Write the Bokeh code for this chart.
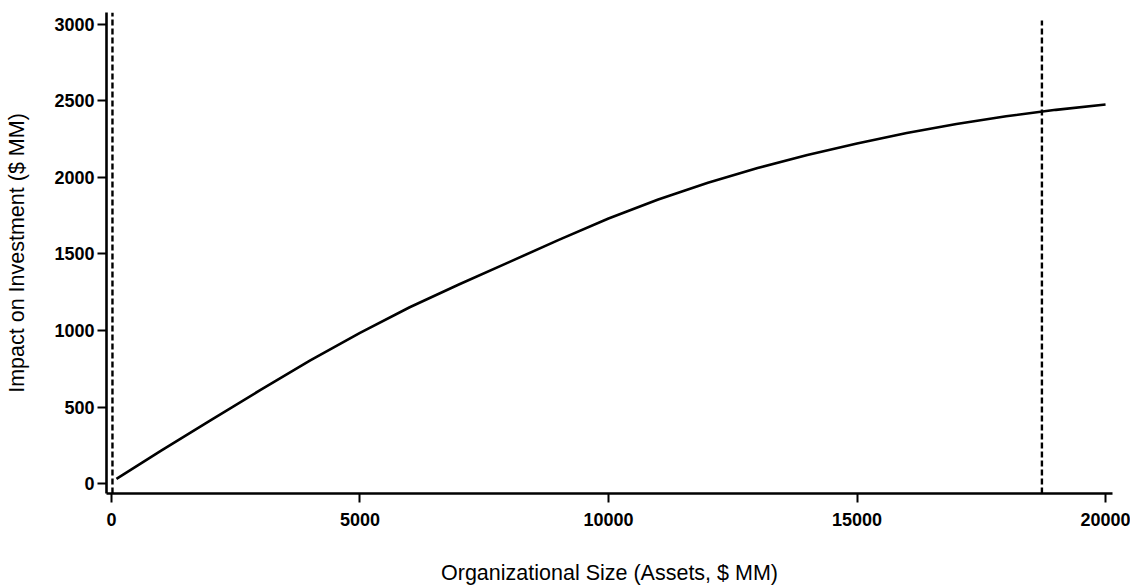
from bokeh.plotting import figure
from bokeh.models import Range1d, FixedTicker
from bokeh.embed import file_html
from bokeh.resources import INLINE

# Data
org_size = [100, 1000, 2000, 3000, 4000, 5000, 6000, 7000, 8000, 9000, 10000,
            11000, 12000, 13000, 14000, 15000, 16000, 17000, 18000, 19000, 20000]
impact = [30, 215, 415, 612, 805, 985, 1152, 1302, 1447, 1592, 1732,
          1856, 1966, 2062, 2147, 2222, 2290, 2350, 2400, 2442, 2477]

ref_x = [20, 18720]          # dashed reference lines (x position)
ref_bottom = [-65, -65]
ref_top = [3078, 3025]

x_ticks = [0, 5000, 10000, 15000, 20000]
y_ticks = [0, 500, 1000, 1500, 2000, 2500, 3000]

FONT = "Liberation Sans"

p = figure(width=1130, height=587, output_backend="svg", toolbar_location=None,
           x_range=Range1d(-100, 20140), y_range=Range1d(-65, 3078),
           min_border_left=106, min_border_right=18, min_border_top=12,
           min_border_bottom=92)

p.line(org_size, impact, line_width=2.6, line_color="black")
p.segment(x0=ref_x, y0=ref_bottom, x1=ref_x, y1=ref_top,
          line_dash="6 3", line_width=2.4, line_color="black")

p.grid.visible = False
p.outline_line_color = None
p.background_fill_color = "white"
p.border_fill_color = "white"

p.xaxis.ticker = FixedTicker(ticks=x_ticks)
p.yaxis.ticker = FixedTicker(ticks=y_ticks)

for ax in (p.xaxis, p.yaxis):
    ax.axis_line_width = 2.6
    ax.axis_line_color = "black"
    ax.major_tick_line_width = 2
    ax.major_tick_line_color = "black"
    ax.major_tick_out = 9
    ax.major_tick_in = 0
    ax.minor_tick_line_color = None
    ax.major_label_text_font = FONT
    ax.major_label_text_font_size = "18px"
    ax.major_label_text_font_style = "bold"
    ax.major_label_text_color = "black"
    ax.axis_label_text_font = FONT
    ax.axis_label_text_font_size = "21.5px"
    ax.axis_label_text_font_style = "normal"
    ax.axis_label_text_color = "black"

p.xaxis.axis_label = "Organizational Size (Assets, $ MM)"
p.yaxis.axis_label = "Impact on Investment ($ MM)"
p.xaxis.major_label_standoff = 10
p.yaxis.major_label_standoff = 3
p.xaxis.axis_label_standoff = 32
p.yaxis.axis_label_standoff = 22

open("out.html", "w").write(file_html(p, INLINE))
